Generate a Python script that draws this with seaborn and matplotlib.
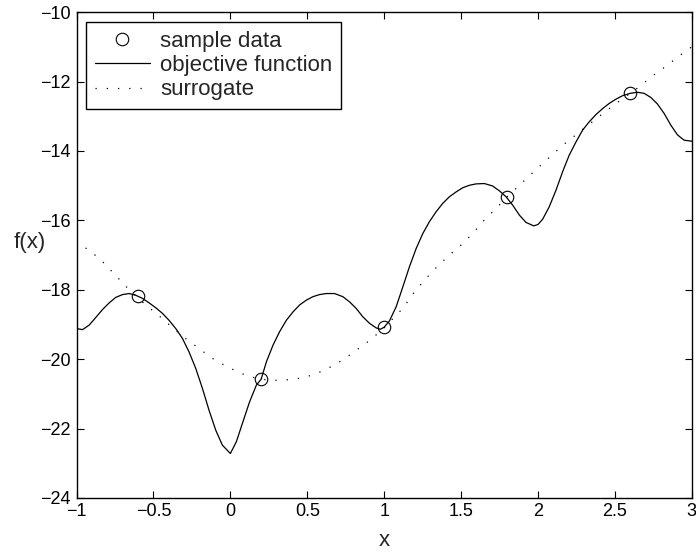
import numpy as np
import pandas as pd
import seaborn as sns
import matplotlib.pyplot as plt

# sample points
sample_x = [-0.6, 0.2, 1.0, 1.8, 2.6]
sample_y = [-18.18, -20.58, -19.08, -15.32, -12.34]

# objective function
obj_x = [-1.000, -0.961, -0.918, -0.875, -0.831, -0.788, -0.745, -0.701, -0.658, -0.615,
         -0.571, -0.528, -0.485, -0.442, -0.399, -0.355, -0.312, -0.269, -0.225, -0.182,
         -0.139, -0.095, -0.052, 0.000, 0.039, 0.082, 0.125, 0.169, 0.200, 0.234,
         0.277, 0.320, 0.364, 0.407, 0.450, 0.494, 0.537, 0.580, 0.623, 0.677,
         0.731, 0.775, 0.818, 0.861, 0.905, 0.948, 0.975, 1.000, 1.034, 1.078,
         1.121, 1.164, 1.208, 1.251, 1.294, 1.338, 1.381, 1.424, 1.468, 1.511,
         1.554, 1.597, 1.651, 1.705, 1.749, 1.792, 1.835, 1.879, 1.922, 1.972,
         2.000, 2.030, 2.073, 2.117, 2.160, 2.203, 2.247, 2.290, 2.333, 2.377,
         2.420, 2.463, 2.506, 2.549, 2.599, 2.647, 2.690, 2.734, 2.777, 2.820,
         2.864, 2.907, 2.950, 3.000]
obj_y = [-19.12, -19.15, -19.02, -18.80, -18.57, -18.38, -18.22, -18.14, -18.11, -18.16,
         -18.25, -18.38, -18.52, -18.68, -18.88, -19.12, -19.40, -19.79, -20.27, -20.84,
         -21.47, -22.05, -22.48, -22.72, -22.38, -21.80, -21.23, -20.75, -20.58, -20.08,
         -19.60, -19.21, -18.88, -18.64, -18.44, -18.30, -18.20, -18.14, -18.11, -18.11,
         -18.20, -18.35, -18.54, -18.78, -18.97, -19.10, -19.14, -19.08, -18.90, -18.49,
         -17.92, -17.34, -16.81, -16.38, -16.04, -15.75, -15.51, -15.32, -15.18, -15.06,
         -14.99, -14.95, -14.94, -15.01, -15.15, -15.32, -15.56, -15.85, -16.06, -16.16,
         -16.12, -15.97, -15.61, -15.13, -14.60, -14.12, -13.74, -13.40, -13.16, -12.95,
         -12.78, -12.63, -12.51, -12.41, -12.34, -12.31, -12.34, -12.46, -12.65, -12.92,
         -13.26, -13.54, -13.69, -13.72]

# surrogate model
sur_x = [-1.0, -0.85, -0.68, -0.561, -0.474, -0.431, -0.305, -0.214, -0.128, -0.03,
         0.06, 0.114, 0.2, 0.277, 0.331, 0.385, 0.439, 0.494, 0.548, 0.601,
         0.645, 0.699, 0.742, 0.79, 0.835, 0.879, 0.922, 1.0, 1.078, 1.121,
         1.197, 1.273, 1.348, 1.424, 1.5, 1.575, 1.651, 1.727, 1.8, 1.879,
         1.965, 2.052, 2.171, 2.257, 2.344, 2.431, 2.517, 2.6, 2.658, 2.744,
         2.831, 2.967, 3.0]
sur_y = [-16.6, -17.1, -17.9, -18.4, -18.71, -18.88, -19.36, -19.66, -19.95, -20.2,
         -20.39, -20.49, -20.58, -20.61, -20.61, -20.59, -20.56, -20.51, -20.43, -20.34,
         -20.24, -20.11, -19.98, -19.84, -19.69, -19.55, -19.4, -19.1, -18.73, -18.54,
         -18.06, -17.67, -17.32, -17.0, -16.71, -16.38, -15.99, -15.66, -15.32, -14.99,
         -14.63, -14.27, -13.8, -13.5, -13.19, -12.89, -12.6, -12.34, -12.15, -11.84,
         -11.56, -11.1, -11.0]

sns.set_style("ticks")
plt.rcParams['font.family'] = ['Liberation Sans', 'DejaVu Sans']

fig = plt.figure(figsize=(6.96, 5.52), dpi=100)
ax = fig.add_axes([0.110, 0.098, 0.884, 0.880])

obj = pd.DataFrame({"x": obj_x, "y": obj_y})
sur = pd.DataFrame({"x": sur_x, "y": sur_y})
smp = pd.DataFrame({"x": sample_x, "y": sample_y})

sns.lineplot(data=sur, x="x", y="y", ax=ax, sort=False, estimator=None,
             color="black", linewidth=0.9, linestyle=(0, (1, 8)), label="surrogate")
sns.lineplot(data=obj, x="x", y="y", ax=ax, sort=False, estimator=None,
             color="black", linewidth=0.9, label="objective function")
ax.plot(smp["x"], smp["y"], linestyle="none", marker="o", markersize=9,
        markerfacecolor="none", markeredgecolor="black", markeredgewidth=0.8,
        label="sample data")

ax.set_xlim(-1, 3)
ax.set_ylim(-24, -10)
ax.set_xticks([-1, -0.5, 0, 0.5, 1, 1.5, 2, 2.5, 3])
ax.set_xticklabels(["\u22121", "\u22120.5", "0", "0.5", "1", "1.5", "2", "2.5", "3"])
ax.set_yticks([-24, -22, -20, -18, -16, -14, -12, -10])
ax.tick_params(direction="in", length=5, width=0.8, top=True, right=True,
               labelsize=13, colors="black", pad=4)
for s in ax.spines.values():
    s.set_visible(True)
    s.set_linewidth(1.0)
    s.set_color("black")

ax.set_xlabel("x", fontsize=16, labelpad=7)
ax.set_ylabel("f(x)", fontsize=16, rotation=0, ha="center", va="center")
ax.yaxis.set_label_coords(-0.076, 0.525)

h, l = ax.get_legend_handles_labels()
order = [l.index("sample data"), l.index("objective function"), l.index("surrogate")]
leg = ax.legend([h[i] for i in order], [l[i] for i in order], loc="upper left",
                bbox_to_anchor=(0.015, 0.98), fontsize=16, frameon=True, fancybox=False,
                edgecolor="black", framealpha=1, borderpad=0.4, handlelength=2.5,
                handletextpad=0.45, labelspacing=0.15, borderaxespad=0)
leg.get_frame().set_linewidth(1.0)

fig.savefig("out.png", dpi=100)
